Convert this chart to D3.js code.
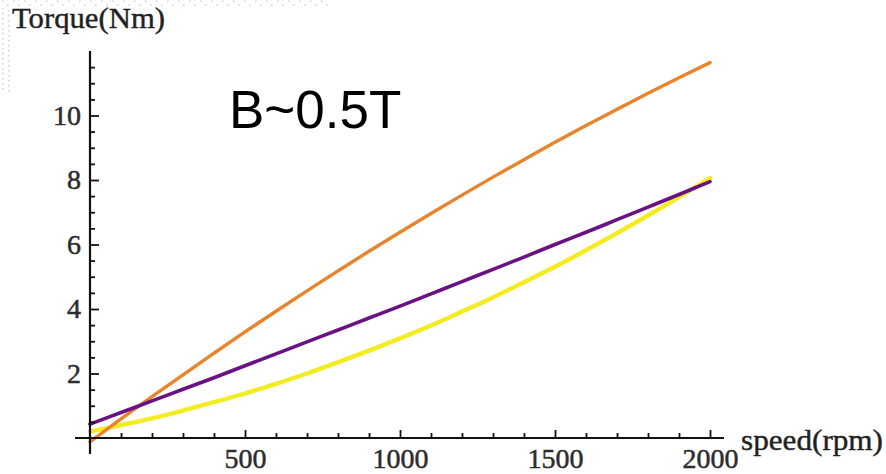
<!DOCTYPE html>
<html>
<head>
<meta charset="utf-8">
<script src="https://cdn.jsdelivr.net/npm/d3@7"></script>
<style>
  html, body { margin: 0; padding: 0; background: #ffffff; }
  svg { display: block; }
</style>
</head>
<body>
<div id="chart"></div>
<script>
// ---- Data ----
const speedRpm = [0, 100, 200, 300, 400, 500, 600, 700, 800, 900, 1000,
                  1100, 1200, 1300, 1400, 1500, 1600, 1700, 1800, 1900, 2000];
const torqueOrange = [-0.12, 0.59, 1.28, 1.96, 2.63, 3.29, 3.93, 4.56, 5.18, 5.79, 6.38,
                      6.96, 7.53, 8.09, 8.63, 9.17, 9.69, 10.19, 10.69, 11.17, 11.64];
const torquePurple = [0.43, 0.79, 1.15, 1.51, 1.87, 2.24, 2.61, 2.98, 3.35, 3.72, 4.09,
                      4.47, 4.85, 5.23, 5.61, 6.00, 6.38, 6.77, 7.16, 7.55, 7.95];
const torqueYellow = [0.20, 0.40, 0.61, 0.85, 1.11, 1.38, 1.68, 2.00, 2.35, 2.71, 3.09,
                      3.49, 3.92, 4.36, 4.83, 5.31, 5.82, 6.35, 6.90, 7.47, 8.06];
const xMajorTicks = [500, 1000, 1500, 2000];
const xMinorTicks = [100, 200, 300, 400, 600, 700, 800, 900, 1100, 1200, 1300, 1400,
                     1600, 1700, 1800, 1900];
const yMajorTicks = [2, 4, 6, 8, 10];
const yMinorTicks = [0.5, 1, 1.5, 2.5, 3, 3.5, 4.5, 5, 5.5, 6.5, 7, 7.5, 8.5, 9, 9.5,
                     10.5, 11, 11.5];
const yLabel = "Torque(Nm)";
const xLabel = "speed(rpm)";
const annotation = "B~0.5T";

// ---- Layout ----
const W = 886, H = 474;
const svg = d3.select("#chart").append("svg").attr("width", W).attr("height", H);

const x = d3.scaleLinear().domain([0, 2000]).range([90, 710]);
const y = d3.scaleLinear().domain([0, 12]).range([438, 51]);

// faint dotted scan artifact at the top-left corner
const dotsG = svg.append("g").attr("fill", "#9fb2cc").attr("opacity", 0.55);
d3.range(2, 330, 11).forEach(px => {
  dotsG.append("rect").attr("x", px).attr("y", 0.5).attr("width", 1.5).attr("height", 1.5);
  dotsG.append("rect").attr("x", px + 5).attr("y", 4.5).attr("width", 1.5).attr("height", 1.5);
});
d3.range(8, 90, 5).forEach(py => {
  dotsG.append("rect").attr("x", 2).attr("y", py).attr("width", 1.5).attr("height", 1.5);
  dotsG.append("rect").attr("x", 8).attr("y", py + 2).attr("width", 1.5).attr("height", 1.5);
});

// ---- Curves ----
const line = d3.line()
  .x((d, i) => x(speedRpm[i]))
  .y(d => y(d))
  .curve(d3.curveMonotoneX);

const series = [
  { vals: torqueYellow, color: "#f3ec22", w: 4.4 },
  { vals: torqueOrange, color: "#e8842c", w: 3.4 },
  { vals: torquePurple, color: "#6a1284", w: 3.6 }
];
series.forEach(s => {
  svg.append("path")
    .datum(s.vals)
    .attr("fill", "none")
    .attr("stroke", s.color)
    .attr("stroke-width", s.w)
    .attr("stroke-linecap", "round")
    .attr("stroke-linejoin", "round")
    .attr("d", line);
});

// ---- Axes ----
const tickFont = "'Liberation Serif', 'Times New Roman', serif";

// x axis line (extends a bit beyond the plot range)
svg.append("line")
  .attr("x1", 75).attr("x2", 724)
  .attr("y1", y(0)).attr("y2", y(0))
  .attr("stroke", "#111").attr("stroke-width", 2);
// y axis line
svg.append("line")
  .attr("x1", x(0)).attr("x2", x(0))
  .attr("y1", 51).attr("y2", 454)
  .attr("stroke", "#111").attr("stroke-width", 2.2);

// x ticks (pointing up), labels below
const gxMinor = svg.append("g").attr("transform", `translate(0,${y(0)})`)
  .call(d3.axisBottom(x).tickValues(xMinorTicks).tickSizeInner(-5).tickSizeOuter(0).tickFormat(""));
const gxMajor = svg.append("g").attr("transform", `translate(0,${y(0)})`)
  .call(d3.axisBottom(x).tickValues(xMajorTicks).tickSizeInner(-8).tickSizeOuter(0)
        .tickPadding(30).tickFormat(d3.format("d")));
[gxMinor, gxMajor].forEach(g => {
  g.select(".domain").remove();
  g.selectAll(".tick line").attr("stroke", "#111").attr("stroke-width", 1.8);
});
gxMajor.selectAll(".tick text")
  .attr("font-family", tickFont).attr("font-size", 28).attr("fill", "#2c2c2c")
  .attr("stroke", "#2c2c2c").attr("stroke-width", 0.5)
  .attr("dy", "0em");

// y ticks (pointing right), labels left
const gyMinor = svg.append("g").attr("transform", `translate(${x(0)},0)`)
  .call(d3.axisLeft(y).tickValues(yMinorTicks).tickSizeInner(-5).tickSizeOuter(0).tickFormat(""));
const gyMajor = svg.append("g").attr("transform", `translate(${x(0)},0)`)
  .call(d3.axisLeft(y).tickValues(yMajorTicks).tickSizeInner(-9).tickSizeOuter(0).tickPadding(9));
[gyMinor, gyMajor].forEach(g => {
  g.select(".domain").remove();
  g.selectAll(".tick line").attr("stroke", "#111").attr("stroke-width", 1.8);
});
gyMajor.selectAll(".tick text")
  .attr("font-family", tickFont).attr("font-size", 28).attr("fill", "#2c2c2c")
  .attr("stroke", "#2c2c2c").attr("stroke-width", 0.5);

// axis labels
svg.append("text")
  .attr("x", 12).attr("y", 28)
  .attr("font-family", tickFont).attr("font-size", 29).attr("fill", "#222")
  .attr("stroke", "#222").attr("stroke-width", 0.4)
  .attr("textLength", 153).attr("lengthAdjust", "spacingAndGlyphs")
  .text(yLabel);
svg.append("text")
  .attr("x", 741).attr("y", 450)
  .attr("font-family", tickFont).attr("font-size", 29).attr("fill", "#222")
  .attr("stroke", "#222").attr("stroke-width", 0.4)
  .attr("textLength", 142).attr("lengthAdjust", "spacingAndGlyphs")
  .text(xLabel);

// annotation
svg.append("text")
  .attr("x", 229).attr("y", 128)
  .attr("font-family", "'Liberation Sans', Arial, sans-serif")
  .attr("font-size", 53).attr("fill", "#000")
  .text(annotation);
</script>
</body>
</html>
